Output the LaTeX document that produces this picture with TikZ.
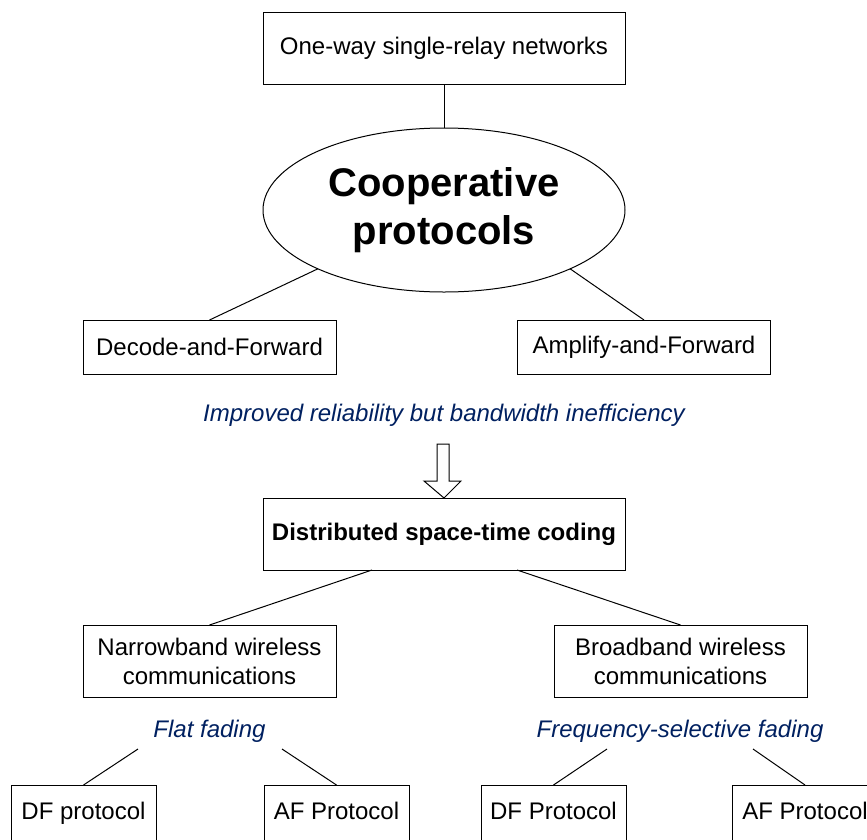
\documentclass[tikz,border=0pt]{standalone}
\usepackage{fontspec}
\setmainfont{Liberation Sans}
\usetikzlibrary{calc,shapes.geometric}
\definecolor{labelblue}{RGB}{0,32,96}
\begin{document}
\begin{tikzpicture}[x=1pt,y=-1pt,
  box/.style={draw,line width=1pt,rectangle,inner sep=0pt,outer sep=0pt,align=center,
    font=\fontsize{24}{29}\selectfont},
  wide/.style={box,minimum width=362pt,minimum height=72pt},
  midbox/.style={box,minimum width=253pt},
  leafbox/.style={box,minimum width=145pt,minimum height=56pt,text height=18pt,text depth=5pt},
  note/.style={text=labelblue,font=\fontsize{24}{29}\selectfont\itshape,inner sep=0pt},
  link/.style={draw,line width=1pt}]
\useasboundingbox (0,0) rectangle (867,839);

% top of the tree
\node[wide] (net) at (444,48) {One-way single-relay networks};
\node[draw,line width=1pt,ellipse,minimum width=362pt,minimum height=164pt,inner sep=0pt,outer sep=0pt,
  align=center,font=\fontsize{40}{48}\selectfont\bfseries] (coop) at (444,210)
  {\raisebox{-3pt}{Cooperative}\\\raisebox{-3pt}{protocols}};
\node[midbox,minimum height=54pt] (dfw) at (209.5,347) {Decode-and-Forward};
\node[midbox,minimum height=54pt] (afw) at (644,347) {Amplify-and-Forward};

\draw[link] (net) -- (coop);
\draw[link] (dfw.north) -- (coop.205);
\draw[link] (afw.north) -- (coop.-25);

% transition
\node[note] (gain) at (444,415) {Improved reliability but bandwidth inefficiency};
\node[wide,font=\fontsize{24}{29}\selectfont\bfseries] (dstc) at (444,534) {Distributed space-time coding};
\draw[line width=1pt,fill=white] (dstc.north) -- ++(-20,-17) -- ++(13,0) -- ++(0,-37)
  -- ++(12,0) -- ++(0,37) -- ++(12,0) -- cycle;

% channel types
\node[midbox,minimum height=72pt] (nb) at (209.5,661) {Narrowband wireless\\communications};
\node[midbox,minimum height=72pt] (bb) at (680.5,661) {Broadband wireless\\communications};
\draw[link] ($(dstc.south)+(-72,0)$) -- (nb.north);
\draw[link] ($(dstc.south)+(73,0)$) -- (bb.north);

% fading models and protocols
\node[note] (flat) at (209.5,731) {Flat fading};
\node[note] (freq) at (680,731) {Frequency-selective fading};
\coordinate (flatL) at ($(flat)+(-71.5,18)$);
\coordinate (flatR) at ($(flat)+(72.5,18)$);
\coordinate (freqL) at ($(freq)+(-73,18)$);
\coordinate (freqR) at ($(freq)+(73,18)$);

\node[leafbox] (df1) at (83.5,813) {DF protocol};
\node[leafbox] (af1) at (336.5,813) {AF Protocol};
\node[leafbox] (df2) at (553.5,813) {DF Protocol};
\node[leafbox] (af2) at (805,813) {AF Protocol};

\draw[link] (flatL) -- (df1.north);
\draw[link] (flatR) -- (af1.north);
\draw[link] (freqL) -- (df2.north);
\draw[link] (freqR) -- (af2.north);
\end{tikzpicture}
\end{document}
